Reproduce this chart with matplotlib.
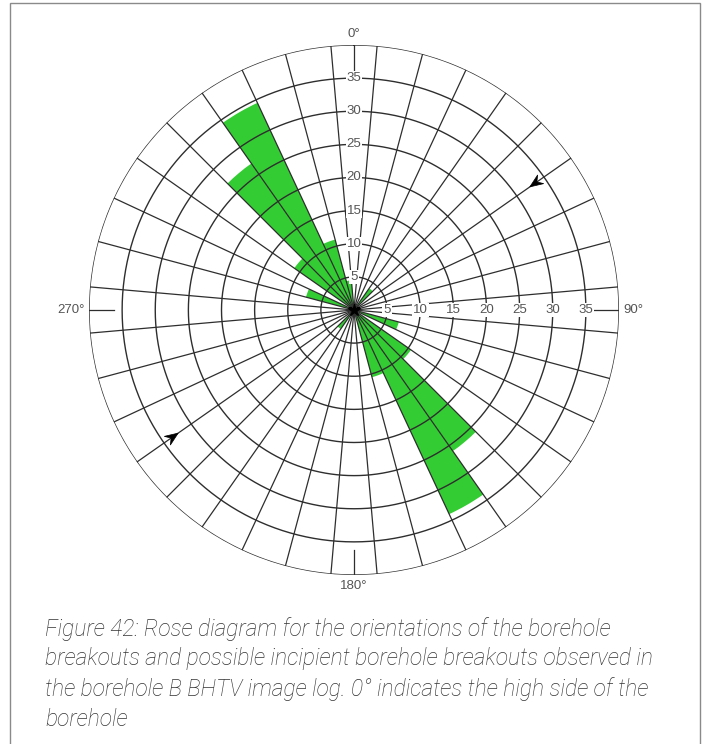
import numpy as np
import matplotlib
matplotlib.use("Agg")
import matplotlib.pyplot as plt
from matplotlib.patches import Polygon, Rectangle

# Breakout orientation counts per 10-degree bin (bin centre in degrees, clockwise from high side)
bin_centres = [40, 110, 130, 140, 150, 160, 220, 290, 310, 320, 330, 340, 350]
counts = [4, 7, 10.5, 26, 34, 10.5, 3.5, 7.5, 11, 27, 34.5, 11, 4.5]

ring_values = [5, 10, 15, 20, 25, 30, 35]
r_max = 40
bin_width = 10
direction_labels = {0: "0°", 90: "90°", 180: "180°", 270: "270°"}
arrow_azimuths = [55, 235]
arrow_tip_radius = 32.4

caption = ("Figure 42: Rose diagram for the orientations of the borehole\n"
           "breakouts and possible incipient borehole breakouts observed in\n"
           "the borehole B BHTV image log. 0° indicates the high side of the\n"
           "borehole")

W, H = 710, 744
fig = plt.figure(figsize=(W / 100, H / 100), dpi=100)

# page frame
fig.patches.append(Rectangle((10 / W, -0.05), 690 / W, (H - 3) / H + 0.05,
                             transform=fig.transFigure, fill=False,
                             edgecolor="#8a8a8a", linewidth=1.0))

cx, cy, R = 354, 310, 265
rect = [(cx - R) / W, (H - cy - R) / H, 2 * R / W, 2 * R / H]

ax = fig.add_axes(rect, projection="polar")
ax.set_theta_zero_location("N")
ax.set_theta_direction(-1)
ax.set_ylim(0, r_max)
ax.axis("off")

grid_col = "#2e2e2e"
label_col = "#555555"
num_font = dict(family=["Liberation Sans Narrow", "Liberation Sans", "DejaVu Sans"],
                fontsize=9.5, color=label_col)

# green petals
ax.bar(np.deg2rad(bin_centres), counts, width=np.deg2rad(bin_width),
       color="#33cc33", edgecolor="none", zorder=1)

# rings
t = np.linspace(0, 2 * np.pi, 721)
for r in ring_values + [r_max]:
    ax.plot(t, np.full_like(t, r), color=grid_col, lw=1.0, zorder=2)

# spokes on bin edges
for a in range(5, 360, 10):
    ax.plot([np.deg2rad(a)] * 2, [0, r_max], color=grid_col, lw=0.9, zorder=2)

# cardinal ticks at the rim
for a in (0, 90):
    ax.plot([np.deg2rad(a)] * 2, [35, r_max], color=grid_col, lw=0.9, zorder=2)
for a in (180, 270):
    ax.plot([np.deg2rad(a)] * 2, [36.2, r_max], color=grid_col, lw=0.9, zorder=2)

# ring value labels along 0 and 90 degrees
for r in ring_values:
    for a in (0, 90):
        ax.text(np.deg2rad(a), r, str(r), ha="center", va="center", zorder=4,
                bbox=dict(boxstyle="square,pad=0.08", fc="white", ec="none"),
                **num_font)

# cardinal direction labels
ax.text(0, r_max + 1.6, direction_labels[0], ha="center", va="center", **num_font)
ax.text(np.deg2rad(90), r_max + 0.6, direction_labels[90], ha="left", va="center", **num_font)
ax.text(np.deg2rad(180), r_max + 1.6, direction_labels[180], ha="center", va="center", **num_font)
ax.text(np.deg2rad(270), r_max + 0.6, direction_labels[270], ha="right", va="center", **num_font)

# centre hub
ax.plot([0], [0], marker="*", color="black", markersize=9, zorder=5)

# arrowheads pointing towards the centre (overlay in cartesian units)
ax2 = fig.add_axes(rect)
ax2.set_xlim(-r_max, r_max)
ax2.set_ylim(-r_max, r_max)
ax2.axis("off")
L, Wd = 2.0, 1.6
for az in arrow_azimuths:
    th = np.deg2rad(az)
    out = np.array([np.sin(th), np.cos(th)])       # outward unit vector
    perp = np.array([-out[1], out[0]])
    tip = arrow_tip_radius * out
    pts = [tip,
           tip + L * out + Wd / 2 * perp,
           tip + 0.65 * L * out,
           tip + L * out - Wd / 2 * perp]
    ax2.add_patch(Polygon(pts, closed=True, facecolor="black", edgecolor="black",
                          lw=0.5, zorder=6))

# caption
fig.text(45 / W, 1 - 617 / H, caption, ha="left", va="top",
         family=["Roboto", "DejaVu Sans"], style="italic", weight="light",
         fontsize=16.4, color="#333333", linespacing=1.36)

fig.savefig("out.png", dpi=100)
